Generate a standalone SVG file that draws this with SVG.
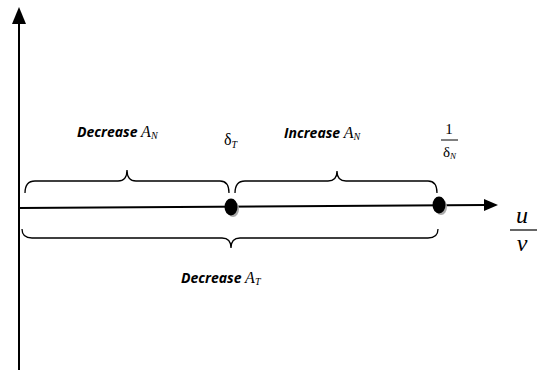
<svg xmlns="http://www.w3.org/2000/svg" width="555" height="374" viewBox="0 0 555 374">
<style>
.ax{stroke:#000;stroke-width:2;fill:none}
.br{stroke:#000;stroke-width:1.3;fill:none}
.lbl{font-family:"Open Sans","DejaVu Sans",sans-serif;font-style:italic;font-weight:bold;font-size:14px;fill:#000}
.m{font-family:"Liberation Serif","DejaVu Serif",serif;font-style:italic;fill:#000}
.r{font-family:"Liberation Serif","DejaVu Serif",serif;fill:#000}
</style>
<g id="connectors">
<line class="ax" x1="19" y1="370" x2="19" y2="22"/>
<path d="M12,24 L19,7 L26,24 Z" fill="#000"/>
<line class="ax" x1="19" y1="208" x2="485" y2="205"/>
<path d="M484,199 L498,205 L484,211 Z" fill="#000"/>
</g>
<g id="brace-decrease-AN">
<path class="br" d="M25,193 Q25,181 35,181 L118,181 Q127,181 127,170 Q127,181 136,181 L220,181 Q229,181 229,193"/>
</g>
<g id="brace-increase-AN">
<path class="br" d="M235,193 Q235,181 245,181 L328,181 Q337,181 337,171 Q337,181 346,181 L428,181 Q437,181 437,193"/>
</g>
<g id="brace-decrease-AT">
<path class="br" d="M22,229 Q22,238 32,238 L222,238 Q231,238 231,248 Q231,238 240,238 L428,238 Q438,238 438,229"/>
</g>
<g id="point-deltaT">
<ellipse cx="233" cy="209" rx="6" ry="8" fill="#aaa"/>
<ellipse cx="231" cy="207" rx="6.5" ry="8.5" fill="#000"/>
</g>
<g id="point-inv-deltaN">
<ellipse cx="441" cy="207" rx="6" ry="8" fill="#aaa"/>
<ellipse cx="439" cy="205" rx="6.5" ry="8.5" fill="#000"/>
</g>
<g id="label-decrease-AN">
<text x="77" y="137" class="lbl">Decrease <tspan class="m" font-weight="normal" font-size="16">A</tspan><tspan class="m" font-weight="normal" font-size="10" dy="2">N</tspan></text>
</g>
<g id="label-deltaT">
<text x="224" y="145" class="r" font-size="16">δ<tspan class="m" font-size="10" dy="3">T</tspan></text>
</g>
<g id="label-increase-AN">
<text x="284" y="138" class="lbl">Increase <tspan class="m" font-weight="normal" font-size="16">A</tspan><tspan class="m" font-weight="normal" font-size="10" dy="2">N</tspan></text>
</g>
<g id="label-inv-deltaN">
<text x="449" y="134" class="r" font-size="15" text-anchor="middle">1</text>
<line x1="441" y1="140" x2="458" y2="140" stroke="#000" stroke-width="1"/>
<text x="443" y="157" class="r" font-size="15">δ<tspan class="m" font-size="9" dy="2">N</tspan></text>
</g>
<g id="label-u-over-v">
<text x="522" y="223" class="m" font-size="24" text-anchor="middle">u</text>
<line x1="510" y1="230" x2="537" y2="230" stroke="#000" stroke-width="1.2"/>
<text x="522" y="251" class="m" font-size="24" text-anchor="middle">v</text>
</g>
<g id="label-decrease-AT">
<text x="181" y="283" class="lbl">Decrease <tspan class="m" font-weight="normal" font-size="16">A</tspan><tspan class="m" font-weight="normal" font-size="10" dy="2">T</tspan></text>
</g>
</svg>
